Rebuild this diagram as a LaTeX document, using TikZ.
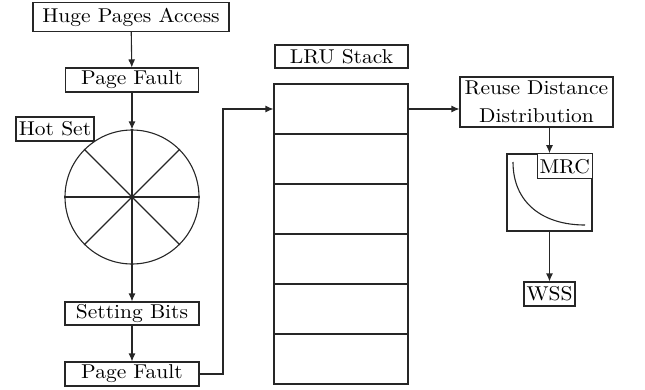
\documentclass[tikz,border=0pt]{standalone}
\usetikzlibrary{arrows.meta,calc}
% text set at 10pt and widened, as in the drawing
\newcommand\lbl[1]{\scalebox{2.15}[2.0]{#1}}
\tikzset{
  ink/.style={draw=black!85, line width=1.1pt},
  box/.style={ink, rectangle, inner sep=0pt, fill=white},
  cell/.style={ink, rectangle, inner sep=0pt, minimum width=134pt, minimum height=50pt},
  flow/.style={ink, -{Latex[length=8pt,width=7pt]}},
  wire/.style={ink},
}
\begin{document}
\begin{tikzpicture}[x=1pt,y=-1pt,font=\fontsize{10}{28}\selectfont]
\useasboundingbox (0,0) rectangle (645,389);

% left column: fault path through the hot set
\node[box, minimum width=196pt, minimum height=29pt] (hpa) at (131,17) {\lbl{Huge Pages Access}};
\node[box, minimum width=133pt, minimum height=24pt] (pf1) at (132,80) {\lbl{Page Fault}};
\node[ink, circle, minimum size=134pt, inner sep=0pt] (hot) at (132,197) {};
\node[box, minimum width=78pt, minimum height=24pt] (hotlbl) at (55,129) {\lbl{Hot Set}};
\node[box, minimum width=134pt, minimum height=23pt] (sb) at (132,313.5) {\lbl{Setting Bits}};
\node[box, minimum width=134pt, minimum height=24pt] (pf2) at (132,374) {\lbl{Page Fault}};

% spokes of the hot set wheel
\foreach \a in {0,45,90,135} {
  \draw[wire] (hot.\a) -- (hot.\a+180);
}

\draw[flow] (hpa) -- (pf1);
\draw[flow] (pf1) -- (hot.north);
\draw[flow] (hot.south) -- (sb);
\draw[flow] (sb) -- (pf2);

% LRU stack
\node[box, minimum width=133pt, minimum height=23pt] (lru) at (341.5,56.5) {\lbl{LRU Stack}};
\foreach \i in {1,...,6} {
  \node[cell] (row\i) at (341,{84+50*(\i-1)+25}) {};
}

\coordinate (turn) at (223,374);
\draw[flow] (pf2.east) -- (turn) |- (row1.west);

% reuse distance, miss ratio curve, working set size
\node[box, minimum width=153pt, minimum height=50pt, align=center] (rdd) at (536.5,102) {\lbl{Reuse Distance}\\\lbl{Distribution}};
\draw[flow] (row1.east) -- (row1.east -| rdd.west);

\node[draw=black!85, line width=1.6pt, rectangle, inner sep=0pt, minimum width=85pt, minimum height=77pt] (mrc) at (549.5,192.5) {};
\node[box, anchor=north east, minimum width=55pt, minimum height=25pt] (mrclbl) at (mrc.north east) {\lbl{MRC}};
\draw[wire] (513,162) .. controls (513,203) and (543,225) .. (585,225);

\node[box, minimum width=51pt, minimum height=24pt] (wss) at (549.5,294) {\lbl{WSS}};

\draw[flow] (mrc.north |- rdd.south) -- (mrc.north);
\draw[flow] (mrc.south) -- (wss.north);
\end{tikzpicture}
\end{document}
